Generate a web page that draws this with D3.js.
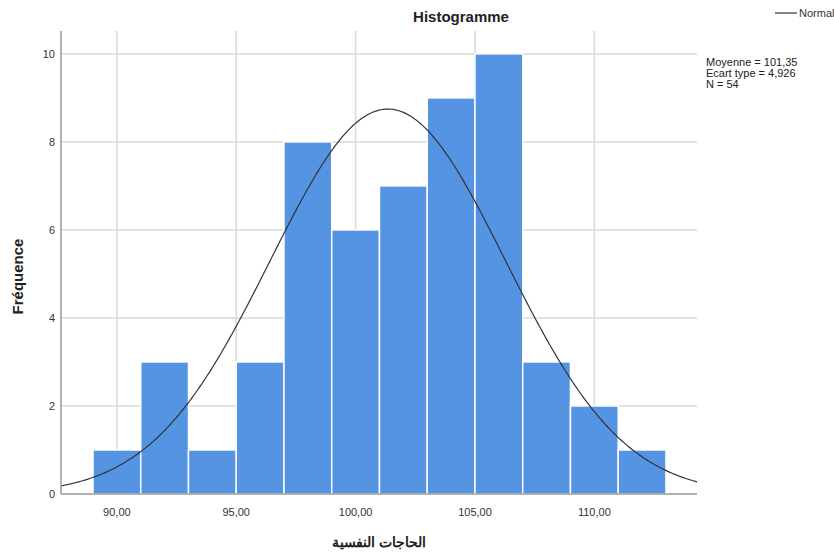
<!DOCTYPE html>
<html>
<head>
<meta charset="utf-8">
<script src="https://cdn.jsdelivr.net/npm/d3@7"></script>
<style>
  body { margin: 0; background: #fff; }
  svg text { font-family: "Liberation Sans", Arial, sans-serif; }
</style>
</head>
<body>
<svg id="chart" width="834" height="555"></svg>
<script>
// bins of width 2, starting at 89
var binStarts = [89, 91, 93, 95, 97, 99, 101, 103, 105, 107, 109, 111];
var counts = [1, 3, 1, 3, 8, 6, 7, 9, 10, 3, 2, 1];
var binWidth = 2;
var xTicks = [90, 95, 100, 105, 110];
var yTicks = [0, 2, 4, 6, 8, 10];
var stats = { mean: 101.35, sd: 4.926, n: 54 };
var statLines = ["Moyenne = 101,35", "Ecart type = 4,926", "N = 54"];

var svg = d3.select("#chart");
var plotLeft = 61, plotRight = 697, plotTop = 31, plotBottom = 494;

var x = d3.scaleLinear().domain([87.66, 114.3]).range([plotLeft, plotRight]);
var y = d3.scaleLinear().domain([0, 10.52]).range([plotBottom, plotTop]);

var fmt = function (v) { return d3.format(".2f")(v).replace(".", ","); };

// grid
svg.append("g").selectAll("line")
  .data(yTicks.filter(function (d) { return d > 0; }))
  .enter().append("line")
  .attr("x1", plotLeft).attr("x2", plotRight)
  .attr("y1", function (d) { return y(d); }).attr("y2", function (d) { return y(d); })
  .attr("stroke", "#d9d9d9").attr("stroke-width", 1.5);

svg.append("g").selectAll("line")
  .data(xTicks)
  .enter().append("line")
  .attr("x1", function (d) { return x(d); }).attr("x2", function (d) { return x(d); })
  .attr("y1", plotTop).attr("y2", plotBottom)
  .attr("stroke", "#d9d9d9").attr("stroke-width", 1.5);

// bars
svg.append("g").selectAll("rect")
  .data(binStarts)
  .enter().append("rect")
  .attr("x", function (d) { return x(d); })
  .attr("width", function (d) { return x(d + binWidth) - x(d); })
  .attr("y", function (d, i) { return y(counts[i]); })
  .attr("height", function (d, i) { return plotBottom - y(counts[i]); })
  .attr("fill", "#5594e2")
  .attr("stroke", "#fff").attr("stroke-width", 1.5);

// normal curve
var scaleN = stats.n * binWidth;
var pts = d3.range(0, 401).map(function (i) {
  var v = x.domain()[0] + (x.domain()[1] - x.domain()[0]) * i / 400;
  var z = (v - stats.mean) / stats.sd;
  return [v, scaleN * Math.exp(-0.5 * z * z) / (stats.sd * Math.sqrt(2 * Math.PI))];
});
svg.append("path")
  .datum(pts)
  .attr("d", d3.line().x(function (d) { return x(d[0]); }).y(function (d) { return y(d[1]); }))
  .attr("fill", "none").attr("stroke", "#333").attr("stroke-width", 1.2);

// axes lines
svg.append("line").attr("x1", plotLeft).attr("x2", plotLeft).attr("y1", plotTop).attr("y2", plotBottom)
  .attr("stroke", "#999").attr("stroke-width", 1.5);
svg.append("line").attr("x1", plotLeft).attr("x2", plotRight).attr("y1", plotBottom).attr("y2", plotBottom)
  .attr("stroke", "#999").attr("stroke-width", 1.5);

// tick labels
svg.append("g").selectAll("text")
  .data(yTicks)
  .enter().append("text")
  .attr("x", plotLeft - 6).attr("y", function (d) { return y(d) + 4; })
  .attr("text-anchor", "end").attr("font-size", 11).attr("fill", "#333")
  .text(function (d) { return d; });

svg.append("g").selectAll("text")
  .data(xTicks)
  .enter().append("text")
  .attr("x", function (d) { return x(d); }).attr("y", plotBottom + 22)
  .attr("text-anchor", "middle").attr("font-size", 11).attr("fill", "#333")
  .text(fmt);

// titles
svg.append("text").attr("x", 461).attr("y", 22)
  .attr("text-anchor", "middle").attr("font-size", 15).attr("font-weight", "bold")
  .attr("fill", "#222").text("Histogramme");

svg.append("text")
  .attr("transform", "translate(23," + ((plotTop + plotBottom) / 2 + 14) + ") rotate(-90)")
  .attr("text-anchor", "middle").attr("font-size", 15).attr("font-weight", "bold")
  .attr("fill", "#222").text("Fréquence");

svg.append("text").attr("x", 379).attr("y", 547)
  .attr("text-anchor", "middle").attr("font-size", 14).attr("font-weight", "bold")
  .attr("fill", "#222").attr("direction", "rtl").text("الحاجات النفسية");

// legend
svg.append("line").attr("x1", 775).attr("x2", 797).attr("y1", 13).attr("y2", 13)
  .attr("stroke", "#333").attr("stroke-width", 1.2);
svg.append("text").attr("x", 799).attr("y", 17)
  .attr("font-size", 11).attr("fill", "#333").text("Normal");

svg.append("g").selectAll("text")
  .data(statLines)
  .enter().append("text")
  .attr("x", 706).attr("y", function (d, i) { return 66 + i * 11; })
  .attr("font-size", 11).attr("fill", "#222")
  .text(function (d) { return d; });
</script>
</body>
</html>
